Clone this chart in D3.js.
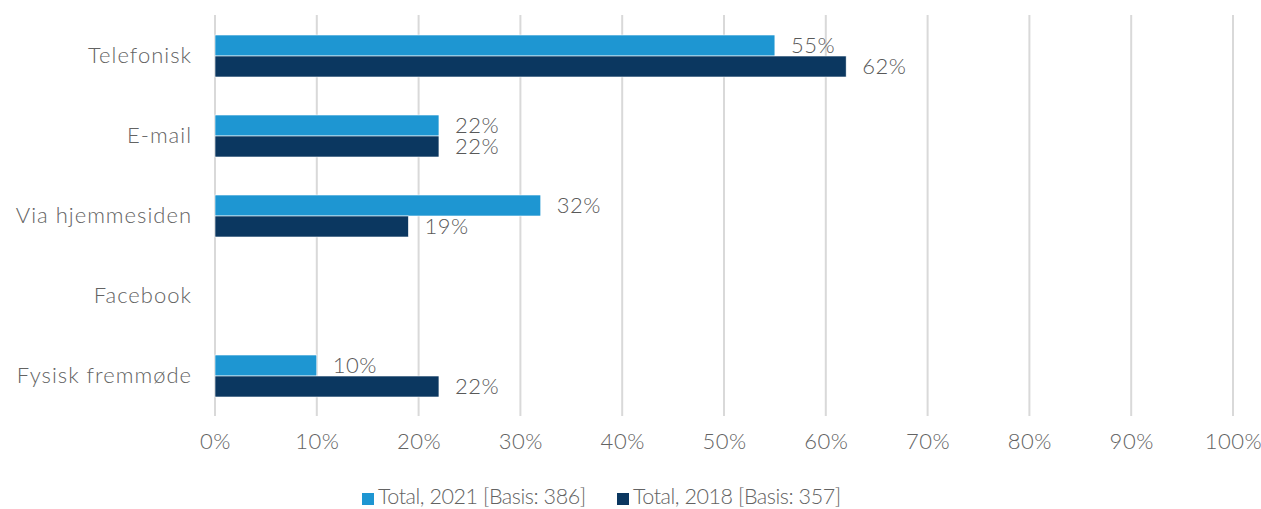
<!DOCTYPE html>
<html>
<head>
<meta charset="utf-8">
<script src="https://cdn.jsdelivr.net/npm/d3@7"></script>
<style>
  html, body { margin: 0; padding: 0; background: #fff; }
  svg { display: block; font-family: Lato, "Open Sans", sans-serif; font-weight: 300; }
</style>
</head>
<body>
<svg id="chart" width="1261" height="509"></svg>
<script>
// Contact channels and share of respondents per survey year
const categories = ["Telefonisk", "E-mail", "Via hjemmesiden", "Facebook", "Fysisk fremmøde"];
const seriesNames = ["Total, 2021 [Basis: 386]", "Total, 2018 [Basis: 357]"];
const values2021 = [0.55, 0.22, 0.32, null, 0.10];
const values2018 = [0.62, 0.22, 0.19, null, 0.22];
const tickValues = [0, 0.1, 0.2, 0.3, 0.4, 0.5, 0.6, 0.7, 0.8, 0.9, 1.0];
const colors = ["#1E96D2", "#0B3760"];

const series = [values2021, values2018];
const svg = d3.select("#chart");
const textColor = "#595959";
const labelColor = "#636363";

const x = d3.scaleLinear().domain([0, 1]).range([215, 1233]);
const y = d3.scaleBand().domain(categories).range([16, 416])
  .paddingInner(0.475).paddingOuter(0.2375);
const ySub = d3.scaleBand().domain(d3.range(series.length)).range([0, y.bandwidth()]);
const fmt = d3.format(".0%");

// vertical gridlines
svg.append("g").selectAll("line").data(tickValues).join("line")
  .attr("x1", d => x(d)).attr("x2", d => x(d))
  .attr("y1", 15).attr("y2", 416)
  .attr("stroke", "#d9d9d9").attr("stroke-width", 2);

// x axis tick labels
const xAxis = d3.axisBottom(x).tickValues(tickValues).tickFormat(fmt).tickSize(0).tickPadding(0);
const gx = svg.append("g").attr("transform", "translate(0,441)").call(xAxis);
gx.select(".domain").remove();
gx.selectAll("text").attr("dy", "0.35em").attr("fill", labelColor)
  .style("font-size", "22px").style("letter-spacing", "0.5px")
  .style("font-family", "Lato, 'Open Sans', sans-serif").style("font-weight", 300);

// category labels
const yAxis = d3.axisLeft(y).tickSize(0).tickPadding(0);
const gy = svg.append("g").attr("transform", "translate(192,0)").call(yAxis);
gy.select(".domain").remove();
gy.selectAll("text").attr("fill", labelColor)
  .style("font-size", "22px").style("letter-spacing", "1px")
  .style("font-family", "Lato, 'Open Sans', sans-serif").style("font-weight", 300);

// bars and value labels
series.forEach((vals, si) => {
  const data = categories.map((c, i) => ({ c, v: vals[i] })).filter(d => d.v != null);
  const g = svg.append("g");
  g.selectAll("rect").data(data).join("rect")
    .attr("x", x(0))
    .attr("y", d => y(d.c) + ySub(si))
    .attr("width", d => x(d.v) - x(0))
    .attr("height", ySub.bandwidth())
    .attr("fill", colors[si])
    .attr("stroke", "#ffffff").attr("stroke-width", 0.6);
  g.selectAll("text").data(data).join("text")
    .attr("x", d => x(d.v) + 16)
    .attr("y", d => y(d.c) + ySub(si) + ySub.bandwidth() / 2)
    .attr("dy", "0.35em")
    .attr("fill", textColor)
    .style("font-size", "22px").style("letter-spacing", "0.5px")
    .text(d => fmt(d.v));
});

// legend
const legendItems = [{ x: 362, i: 0 }, { x: 617, i: 1 }];
const lg = svg.append("g");
legendItems.forEach(li => {
  lg.append("rect").attr("x", li.x).attr("y", 493).attr("width", 12).attr("height", 12)
    .attr("fill", colors[li.i]);
  lg.append("text").attr("x", li.x + 16).attr("y", 504)
    .attr("fill", labelColor).style("font-size", "21.5px").style("letter-spacing", "-0.45px")
    .text(seriesNames[li.i]);
});
</script>
</body>
</html>
